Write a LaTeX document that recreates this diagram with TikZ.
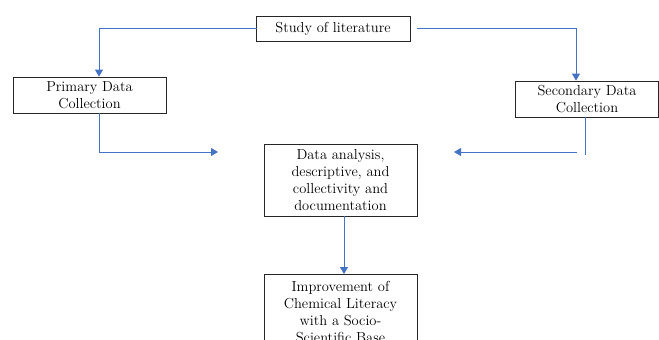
\documentclass[tikz,border=0pt]{standalone}
\usetikzlibrary{arrows.meta}
\definecolor{lnblue}{HTML}{4472C4}
\tikzset{
  box/.style={draw=black!85, line width=0.8pt, align=center, inner sep=0pt,
    font=\fontsize{14.5}{17}\selectfont},
  conn/.style={draw=lnblue, line width=0.8pt},
  arr/.style={conn, -{Triangle[length=7pt,width=8pt]}}
}
\begin{document}
\begin{tikzpicture}[x=1pt,y=-1pt]
\useasboundingbox (0,0) rectangle (659,340);
\clip (0,0) rectangle (659,340);
\node[box, minimum width=154pt, minimum height=25pt] (study) at (333,28.5) {Study of literature};
\node[box, minimum width=153pt, minimum height=36pt] (primary) at (89.5,95) {Primary Data\\Collection};
\node[box, minimum width=143pt, minimum height=36pt] (secondary) at (587,99) {Secondary Data\\Collection};
\node[box, minimum width=153pt, minimum height=72pt] (analysis) at (340.5,180) {Data analysis,\\descriptive, and\\collectivity and\\documentation};
\node[box, minimum width=153pt, minimum height=74pt, anchor=north] (improve) at (340.5,274) {\rule{0pt}{12pt}Improvement of\\Chemical Literacy\\with a Socio-\\Scientific Base};
% coordinates
\coordinate (sl) at (257,28);
\coordinate (slc) at (99,28);
\coordinate (sr) at (417,28);
\coordinate (src) at (576,28);
\coordinate (pb) at (99,113);
\coordinate (pc) at (99,152);
\coordinate (pt) at (218,152);
\coordinate (sb) at (585,117);
\coordinate (sc) at (585,155);
\coordinate (ss) at (577,152);
\coordinate (st) at (454,152);
% connectors
\draw[arr] (sl) -- (slc) -- (slc |- primary.north);
\draw[arr] (sr) -- (src) -- (src |- secondary.north);
\draw[arr] (pb) -- (pc) -- (pt);
\draw[conn] (sb) -- (sc);
\draw[arr] (ss) -- (st);
\draw[arr] (analysis.south -| 344,0) -- (improve.north -| 344,0);
\end{tikzpicture}
\end{document}
